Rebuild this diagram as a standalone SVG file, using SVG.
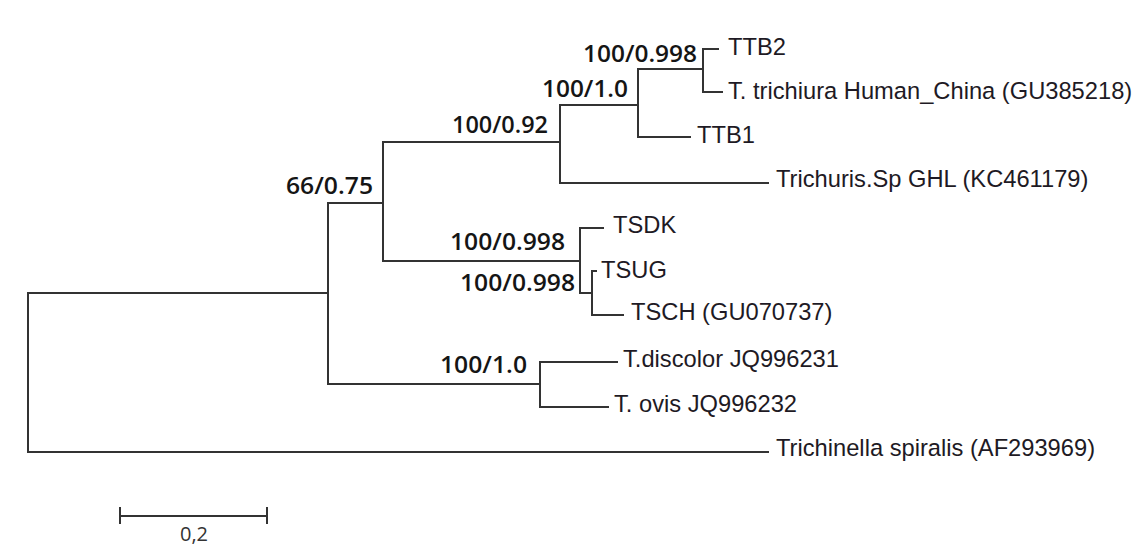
<svg xmlns="http://www.w3.org/2000/svg" width="1147" height="546" viewBox="0 0 1147 546">
<style>
.br{stroke:#333333;stroke-width:2;fill:none;stroke-linecap:square}
.tip{font-family:"Liberation Sans",Arial,sans-serif;font-size:23.7px;fill:#1e1a24}
.sup{font-family:"Open Sans","Noto Sans",sans-serif;font-size:23px;font-weight:600;fill:#151515}
.sc{font-family:"Open Sans","Noto Sans",sans-serif;font-size:20px;fill:#333}
</style>
<rect width="1147" height="546" fill="#ffffff"/>
<g id="connectors" class="br">
<path d="M28,293V452M28,293H328M28,452H768"/>
<path d="M328,203V384M328,203H383M328,384H540"/>
<path d="M383,142V261M383,142H560M383,261H580"/>
<path d="M560,105V183M560,105H638M560,183H768"/>
<path d="M638,69V137M638,69H703M638,137H690"/>
<path d="M703,49V92M703,49H718M703,92H722"/>
<path d="M580,228V293M580,228H603M580,293H592"/>
<path d="M592,271V315M592,271H596M592,315H623"/>
<path d="M540,362V407M540,362H617M540,407H608"/>
</g>
<g id="supports">
<text class="sup" x="583" y="62" textLength="114" lengthAdjust="spacingAndGlyphs">100/0.998</text>
<text class="sup" x="542" y="97" textLength="86" lengthAdjust="spacingAndGlyphs">100/1.0</text>
<text class="sup" x="452" y="133" textLength="96" lengthAdjust="spacingAndGlyphs">100/0.92</text>
<text class="sup" x="286" y="194" textLength="87" lengthAdjust="spacingAndGlyphs">66/0.75</text>
<text class="sup" x="450" y="250" textLength="115" lengthAdjust="spacingAndGlyphs">100/0.998</text>
<text class="sup" x="460" y="291" textLength="115" lengthAdjust="spacingAndGlyphs">100/0.998</text>
<text class="sup" x="440" y="373" textLength="87" lengthAdjust="spacingAndGlyphs">100/1.0</text>
</g>
<g id="tip-TTB2"><text class="tip" x="728" y="55">TTB2</text></g>
<g id="tip-trichiura"><text class="tip" x="728" y="99">T. trichiura Human_China (GU385218)</text></g>
<g id="tip-TTB1"><text class="tip" x="697" y="143">TTB1</text></g>
<g id="tip-GHL"><text class="tip" x="776" y="187">Trichuris.Sp GHL (KC461179)</text></g>
<g id="tip-TSDK"><text class="tip" x="613" y="233">TSDK</text></g>
<g id="tip-TSUG"><text class="tip" x="601" y="278">TSUG</text></g>
<g id="tip-TSCH"><text class="tip" x="631" y="320">TSCH (GU070737)</text></g>
<g id="tip-discolor"><text class="tip" x="623" y="367">T.discolor JQ996231</text></g>
<g id="tip-ovis"><text class="tip" x="614" y="412">T. ovis JQ996232</text></g>
<g id="tip-spiralis"><text class="tip" x="776" y="456">Trichinella spiralis (AF293969)</text></g>
<g id="scale-bar">
<path class="br" d="M120,516H267M120,508V523M267,508V523"/>
<text class="sc" x="194" y="541" text-anchor="middle">0,2</text>
</g>
</svg>
